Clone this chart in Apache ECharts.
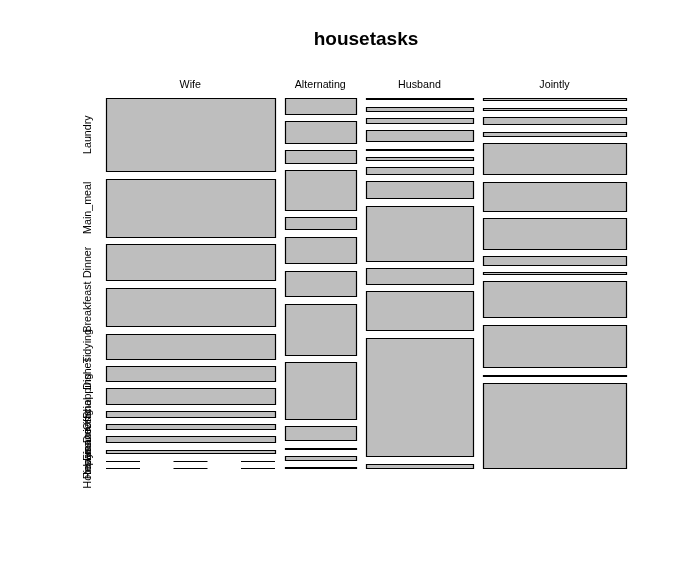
<!DOCTYPE html>
<html>
<head>
<meta charset="utf-8">
<script src="https://cdn.jsdelivr.net/npm/echarts@6/dist/echarts.min.js"></script>
<style>html,body{margin:0;padding:0;background:#fff;}#main{width:695px;height:568px;}</style>
</head>
<body>
<div id="main"></div>
<script>
// ---- data ----
var tasks = ['Laundry','Main_meal','Dinner','Breakfeast','Tidying','Dishes','Shopping','Official','Driving','Finances','Insurance','Repairs','Holidays'];
var performers = ['Wife','Alternating','Husband','Jointly'];
var wife        = [156,124,77,82,53,32,33,12,10,13,8,0,0];
var alternating = [14,20,11,36,11,24,23,46,51,13,1,3,1];
var husband     = [2,5,7,15,1,4,9,23,75,21,53,160,6];
var jointly     = [4,4,13,7,57,53,55,15,3,66,77,2,153];
var title = 'housetasks';

// ---- derived ----
var columns = [wife, alternating, husband, jointly];
var colTotals = columns.map(function(c){ return c.reduce(function(a,b){return a+b;},0); });
var grand = colTotals.reduce(function(a,b){return a+b;},0);
var gapX = grand * 10 / 490;      // gap between columns (count units)
var gapY = 7.33 / 282;            // gap between rows (proportion units)
var xMax = grand + gapX * (performers.length - 1);
var yMax = 1 + gapY * (tasks.length - 1);

var data = [];
columns.forEach(function(col, ci){
  col.forEach(function(v, ri){ data.push([ci, ri, v]); });
});

function px(v){ return Math.round(v) + 0.5; }
var labelFont = '10.7px "Liberation Sans", Arial, sans-serif';

var chart = echarts.init(document.getElementById('main'), null, {renderer:'canvas'});
chart.setOption({
  animation: false,
  backgroundColor: '#ffffff',
  grid: {left: 106, right: 69, top: 98, bottom: 100},
  xAxis: {type:'value', min:0, max:xMax, show:false},
  yAxis: {type:'value', min:0, max:yMax, inverse:true, show:false},
  graphic: [{
    type:'text', x:366, y:40,
    style:{text:title, font:'bold 19px "Liberation Sans", Arial, sans-serif', fill:'#000', align:'center', verticalAlign:'middle'}
  }],
  series: [{
    type:'custom',
    data: data,
    renderItem: function(params, api){
      var ci = api.value(0), ri = api.value(1), v = api.value(2);
      var col = columns[ci];
      var x0 = gapX * ci;
      for (var k = 0; k < ci; k++) x0 += colTotals[k];
      var x1 = x0 + colTotals[ci];
      var y0 = gapY * ri;
      for (var j = 0; j < ri; j++) y0 += col[j] / colTotals[ci];
      var y1 = y0 + v / colTotals[ci];
      var p0 = api.coord([x0, y0]);
      var p1 = api.coord([x1, y1]);
      var children = [];
      if (v === 0) {
        children.push({
          type:'line',
          shape:{x1:Math.round(p0[0]), y1:px(p0[1]), x2:Math.round(p1[0]), y2:px(p0[1])},
          style:{stroke:'#000', lineWidth:1, lineDash:[34,33.5]}
        });
      } else {
        var l = px(p0[0]), r = px(p1[0]), t = px(p0[1]), b = px(p1[1]);
        children.push({
          type:'rect',
          shape:{x:l, y:t, width:r-l, height:Math.max(b-t, 0)},
          style:{fill:'#bebebe', stroke:'#000', lineWidth:1.2}
        });
      }
      if (ci === 0) {
        children.push({
          type:'text', x:88.5, y:(p0[1] + p1[1]) / 2, rotation: Math.PI/2,
          style:{text:tasks[ri], font:labelFont, fill:'#000', align:'center', verticalAlign:'middle'}
        });
      }
      if (ri === 0) {
        children.push({
          type:'text', x:(p0[0] + p1[0]) / 2, y:85,
          style:{text:performers[ci], font:labelFont, fill:'#000', align:'center', verticalAlign:'middle'}
        });
      }
      return {type:'group', children:children};
    }
  }]
});
</script>
</body>
</html>
